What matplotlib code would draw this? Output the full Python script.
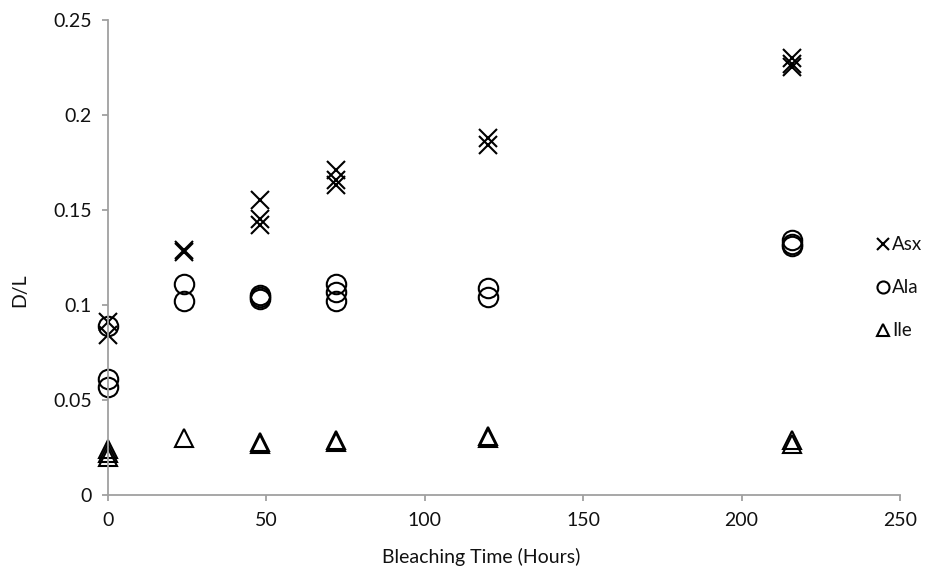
import matplotlib
matplotlib.use("Agg")
import matplotlib.pyplot as plt

plt.rcParams['font.family'] = ['Lato', 'DejaVu Sans']

# Bleaching time (hours) for each replicate
asx_t = [0, 0, 24, 24, 48, 48, 48, 72, 72, 72, 120, 120, 216, 216, 216]
asx_dl = [0.091, 0.084, 0.129, 0.128, 0.155, 0.145, 0.142, 0.171, 0.166, 0.163, 0.188, 0.184, 0.230, 0.227, 0.225]

ala_t = [0, 0, 0, 24, 24, 48, 48, 48, 72, 72, 72, 120, 120, 216, 216, 216]
ala_dl = [0.089, 0.061, 0.057, 0.111, 0.102, 0.105, 0.104, 0.103, 0.111, 0.107, 0.102, 0.109, 0.104, 0.134, 0.132, 0.131]

ile_t = [0, 0, 0, 24, 48, 48, 72, 72, 120, 120, 216, 216]
ile_dl = [0.024, 0.022, 0.020, 0.030, 0.028, 0.027, 0.029, 0.028, 0.031, 0.030, 0.029, 0.027]

fig = plt.figure(figsize=(9.28, 5.71), dpi=100)
ax = fig.add_axes([0.1164, 0.1331, 0.8534, 0.832])

ax.plot(asx_t, asx_dl, linestyle="none", marker="x", markersize=13, mew=1.5,
        color="black", label="Asx", clip_on=False)
ax.plot(ala_t, ala_dl, linestyle="none", marker="o", markersize=14, mew=1.5,
        mfc="none", color="black", label="Ala", clip_on=False)
ax.plot(ile_t, ile_dl, linestyle="none", marker="^", markersize=13.5, mew=1.5,
        mfc="none", color="black", label="Ile", clip_on=False)

ax.set_xlim(0, 250)
ax.set_ylim(0, 0.25)
ax.set_xticks([0, 50, 100, 150, 200, 250])
ax.set_yticks([0, 0.05, 0.1, 0.15, 0.2, 0.25])
ax.set_yticklabels(["0", "0.05", "0.1", "0.15", "0.2", "0.25"])

for side in ["top", "right"]:
    ax.spines[side].set_visible(False)
for side in ["left", "bottom"]:
    ax.spines[side].set_color("#a0a0a0")
    ax.spines[side].set_linewidth(1.3)
ax.tick_params(axis="both", direction="out", length=4.5, width=1.3, color="#a0a0a0",
               labelsize=14, labelcolor="#111111")
ax.tick_params(axis="x", pad=8)
ax.tick_params(axis="y", pad=7)

ax.set_xlabel("Bleaching Time (Hours)", fontsize=14, color="#111111")
ax.xaxis.set_label_coords(0.471, -0.131)
ax.xaxis.label.set_verticalalignment("center")
ax.set_ylabel("D/L", fontsize=14, color="#111111")
ax.yaxis.set_label_coords(-0.111, 0.432)
ax.yaxis.label.set_verticalalignment("center")

leg = ax.legend(loc="center left", bbox_to_anchor=(0.962, 0.436), frameon=False,
                fontsize=13.5, markerscale=0.62, handlelength=0.6, handletextpad=0.2,
                labelspacing=1.38, borderaxespad=0)
for t in leg.get_texts():
    t.set_color("#111111")

fig.savefig("out.png", dpi=100)
